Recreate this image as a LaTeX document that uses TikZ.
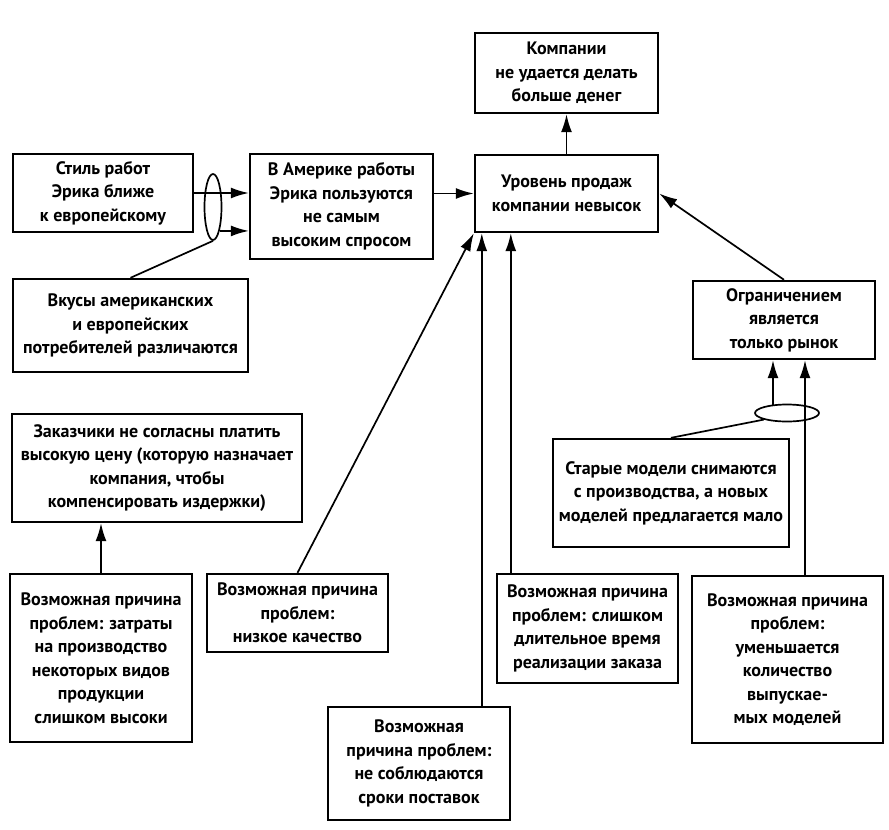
\documentclass[tikz,border=0pt]{standalone}
\usepackage{fontspec}
\setmainfont{PT Sans}
\usetikzlibrary{arrows.meta, shapes, calc, positioning}

\begin{document}
\begin{tikzpicture}[->,>={Latex[length=18pt,width=11pt]},x=1pt,y=-1pt,
        line width=1.7pt,font=\bfseries\fontsize{18}{23.5}\selectfont]
        \tikzstyle{box}=[draw=black,line width=2.4pt,align=center,inner sep=2pt]
        \tikzstyle{grp}=[ellipse,draw=black,line width=1.7pt,inner sep=0pt]
        \useasboundingbox (0,0) rectangle (889,830);
        % top of the tree
        \node[box,minimum width=183pt,minimum height=80pt](A) at (566.5,73){Компании\\не удается делать\\больше денег};
        \node[box,minimum width=183pt,minimum height=77pt](B) at (566.5,193.5){Уровень продаж\\компании невысок};
        % left branch
        \node[box,minimum width=180pt,minimum height=78pt](C) at (103,193){Стиль работ\\Эрика ближе\\к европейскому};
        \node[box,minimum width=183pt,minimum height=105pt](D) at (341.5,206.5){В Америке работы\\Эрика пользуются\\не самым\\высоким спросом};
        \node[box,minimum width=235pt,minimum height=93pt](E) at (130.5,325.5){Вкусы американских\\и европейских\\потребителей различаются};
        \node[box,minimum width=290pt,minimum height=108pt](F) at (157,468){Заказчики не согласны платить\\высокую цену (которую назначает\\компания, чтобы\\компенсировать издержки)};
        \node[grp,minimum width=17pt,minimum height=66pt](E1) at (213,207){};
        % right branch
        \node[box,minimum width=182pt,minimum height=78pt](G) at (784,320){Ограничением\\является\\только рынок};
        \node[box,minimum width=236pt,minimum height=108pt](H) at (671,493){Старые модели снимаются\\с производства, а новых\\моделей предлагается мало};
        \node[grp,minimum width=64pt,minimum height=17pt](E2) at (787,413){};
        % possible causes
        \node[box,minimum width=182pt,minimum height=168pt](I) at (101,658){Возможная причина\\проблем: затраты\\на производство\\некоторых видов\\продукции\\слишком высоки};
        \node[box,minimum width=181pt,minimum height=78pt](J) at (297.5,613){Возможная причина\\проблем:\\низкое качество};
        \node[box,minimum width=182pt,minimum height=113pt](K) at (419,763.5){Возможная\\причина проблем:\\не соблюдаются\\сроки поставок};
        \node[box,minimum width=181pt,minimum height=109pt](L) at (587.5,628.5){Возможная причина\\проблем: слишком\\длительное время\\реализации заказа};
        \node[box,minimum width=191pt,minimum height=167pt](M) at (787.5,659.5){Возможная причина\\проблем:\\уменьшается\\количество\\выпускае-\\мых моделей};

        \coordinate (b1) at ($(B.south west)+(8,0)$);
        \coordinate (b2) at ($(B.south west)+(37,0)$);
        \coordinate (g1) at ($(E2.center)+(-14,-7.6)$);
        \coordinate (g2) at ($(M.north)+(17.5,0)$);

        \draw (B) -- (A);
        \draw (B.west -| D.east) -- (B.west);
        \draw (C.east) -- (C.east -| D.west);
        \draw (E1.south east) -- (E1.south east -| D.west);
        \draw[-] (E.north) -- (E1.south);
        \draw (I.north) -- (I.north |- F.south);
        \draw (J.north) -- (B.south west);
        \draw (b1 |- K.north) -- (b1);
        \draw (b2 |- L.north) -- (b2);
        \draw (G.north) -- (B.east);
        \draw (g1) -- (g1 |- G.south);
        \draw (g2) -- (g2 |- G.south);
        \draw[-] (H.north) -- (E2.south west);
\end{tikzpicture}
\end{document}
